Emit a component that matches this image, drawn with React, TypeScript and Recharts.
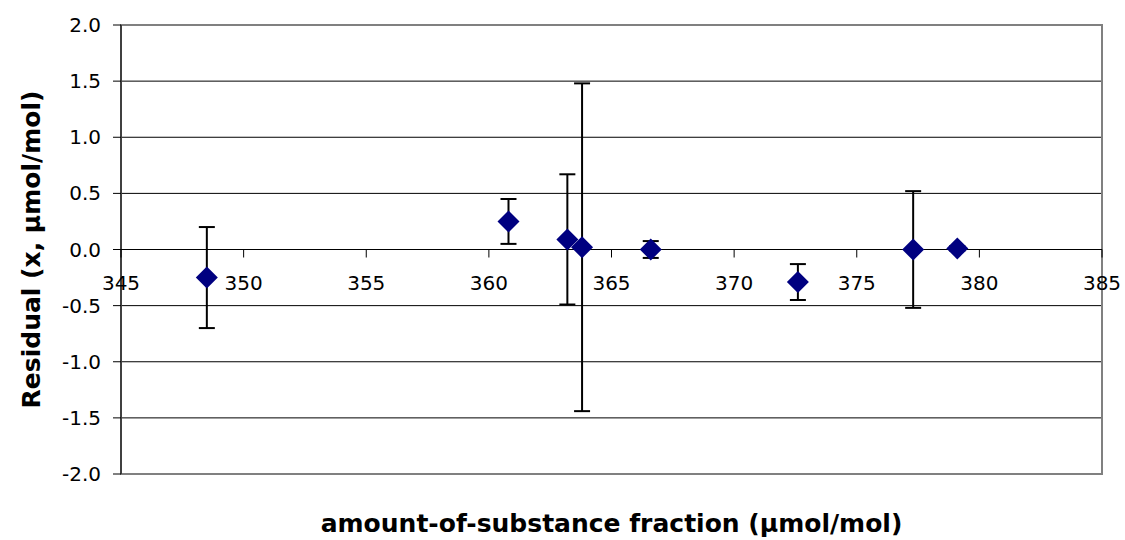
import React from 'react';
import {
  ScatterChart,
  Scatter,
  XAxis,
  YAxis,
  CartesianGrid,
  ErrorBar,
  ReferenceLine,
  ReferenceArea,
} from 'recharts';

const xValues = [348.5, 360.8, 363.2, 363.8, 366.6, 372.6, 377.3, 379.1];
const residuals = [-0.25, 0.25, 0.09, 0.02, 0.0, -0.29, 0.0, 0.01];
const uncertainties = [0.45, 0.2, 0.58, 1.46, 0.075, 0.16, 0.52, 0.02];
const xTicks = [345, 350, 355, 360, 365, 370, 375, 380, 385];
const yTicks = [-2.0, -1.5, -1.0, -0.5, 0.0, 0.5, 1.0, 1.5, 2.0];

const data = xValues.map((x, i) => ({ x, y: residuals[i], err: uncertainties[i] }));

const W = 1125;
const H = 540;
const M_TOP = 25;
const M_RIGHT = 23;
const M_BOTTOM = 66;
const Y_AXIS_W = 121;
const PLOT_H = H - M_TOP - M_BOTTOM;
const ZERO_Y = M_TOP + PLOT_H / 2;
const FONT = '"DejaVu Sans", Verdana, sans-serif';

const Diamond = (props: any) => {
  const { cx, cy } = props;
  if (cx == null || cy == null) return null;
  const r = 11;
  return (
    <polygon
      points={`${cx},${cy - r} ${cx + r},${cy} ${cx},${cy + r} ${cx - r},${cy}`}
      fill="#000080"
    />
  );
};

const XTick = (props: any) => {
  const { x, payload } = props;
  return (
    <g>
      <line x1={x} y1={ZERO_Y} x2={x} y2={ZERO_Y + 8} stroke="#000" strokeWidth={1} />
      <text
        x={x}
        y={ZERO_Y + 40}
        textAnchor="middle"
        fontSize={20}
        fontFamily={FONT}
        fill="#000"
      >
        {payload.value}
      </text>
    </g>
  );
};

export default function App() {
  return (
    <div style={{ position: 'absolute', left: 0, top: 0, background: '#fff' }}>
      <ScatterChart
        width={W}
        height={H}
        margin={{ top: M_TOP, right: M_RIGHT, bottom: 0, left: 0 }}
      >
        <CartesianGrid horizontal vertical={false} stroke="#000" strokeWidth={1} />
        <ReferenceArea
          x1={345}
          x2={385}
          y1={-2}
          y2={2}
          fill="none"
          stroke="#808080"
          strokeWidth={2}
          ifOverflow="visible"
        />
        <XAxis
          type="number"
          dataKey="x"
          domain={[345, 385]}
          ticks={xTicks}
          interval={0}
          axisLine={false}
          tickLine={false}
          height={M_BOTTOM}
          tick={<XTick />}
          label={{
            value: 'amount-of-substance fraction (µmol/mol)',
            position: 'insideBottom',
            offset: 8,
            fontSize: 25,
            fontWeight: 'bold',
            fontFamily: FONT,
            fill: '#000',
          }}
        />
        <YAxis
          type="number"
          dataKey="y"
          domain={[-2, 2]}
          ticks={yTicks}
          interval={0}
          width={Y_AXIS_W}
          tickFormatter={(v: number) => v.toFixed(1)}
          axisLine={{ stroke: '#000', strokeWidth: 1 }}
          tickLine={{ stroke: '#000' }}
          tickSize={8}
          tickMargin={12}
          tick={{ fontSize: 20, fontFamily: FONT, fill: '#000' }}
          label={{
            value: 'Residual (x, µmol/mol)',
            angle: -90,
            position: 'insideLeft',
            offset: 31,
            style: { textAnchor: 'middle' },
            fontSize: 25,
            fontWeight: 'bold',
            fontFamily: FONT,
            fill: '#000',
          }}
        />
        <ReferenceLine y={0} stroke="#000" strokeWidth={1} />
        <Scatter data={data} shape={<Diamond />} isAnimationActive={false}>
          <ErrorBar dataKey="err" direction="y" width={8} stroke="#000" strokeWidth={2} />
        </Scatter>
      </ScatterChart>
    </div>
  );
}
